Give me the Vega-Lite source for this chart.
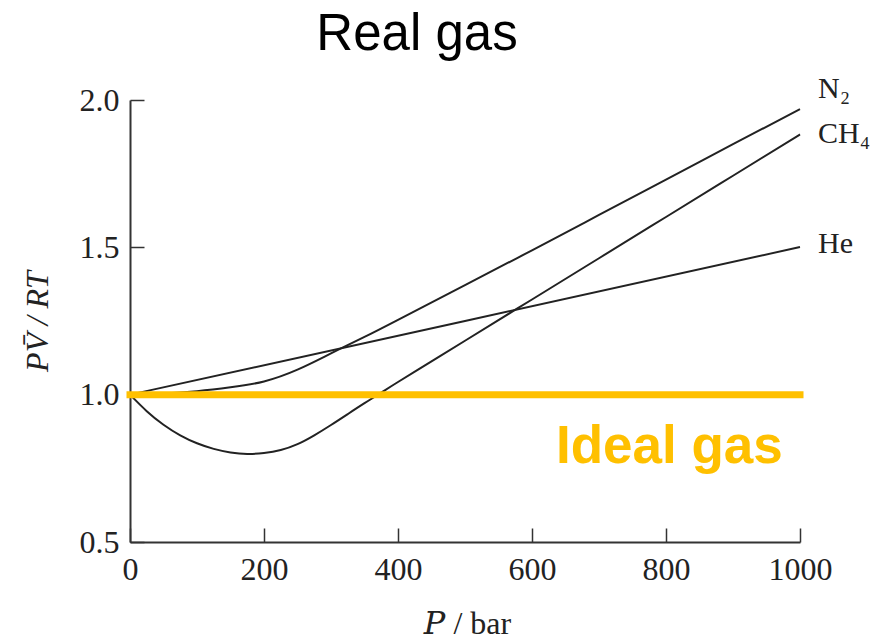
{
  "$schema": "https://vega.github.io/schema/vega-lite/v6.json",
  "width": 670,
  "height": 442,
  "autosize": {"type": "none"},
  "padding": {"left": 130, "top": 100, "right": 79, "bottom": 98},
  "background": "white",
  "config": {"view": {"stroke": null}},
  "title": {
    "text": "Real gas",
    "font": "Liberation Sans",
    "fontSize": 51,
    "fontWeight": "normal",
    "color": "#000000",
    "anchor": "middle",
    "dx": -48,
    "dy": 47,
    "baseline": "alphabetic",
    "offset": 20
  },
  "datasets": {
    "curves": [
      {"gas": "He", "P": 0, "Z": 1.0},
      {"gas": "He", "P": 500, "Z": 1.25},
      {"gas": "He", "P": 1000, "Z": 1.501},
      {"gas": "N2", "P": 0, "Z": 1.0},
      {"gas": "N2", "P": 50, "Z": 1.004},
      {"gas": "N2", "P": 100, "Z": 1.012},
      {"gas": "N2", "P": 150, "Z": 1.025},
      {"gas": "N2", "P": 200, "Z": 1.045},
      {"gas": "N2", "P": 250, "Z": 1.085},
      {"gas": "N2", "P": 300, "Z": 1.14},
      {"gas": "N2", "P": 350, "Z": 1.196},
      {"gas": "N2", "P": 400, "Z": 1.254},
      {"gas": "N2", "P": 500, "Z": 1.372},
      {"gas": "N2", "P": 600, "Z": 1.49},
      {"gas": "N2", "P": 700, "Z": 1.61},
      {"gas": "N2", "P": 800, "Z": 1.73},
      {"gas": "N2", "P": 900, "Z": 1.85},
      {"gas": "N2", "P": 1000, "Z": 1.969},
      {"gas": "CH4", "P": 0, "Z": 1.0},
      {"gas": "CH4", "P": 25, "Z": 0.944},
      {"gas": "CH4", "P": 50, "Z": 0.898},
      {"gas": "CH4", "P": 75, "Z": 0.862},
      {"gas": "CH4", "P": 100, "Z": 0.835},
      {"gas": "CH4", "P": 125, "Z": 0.816},
      {"gas": "CH4", "P": 150, "Z": 0.804},
      {"gas": "CH4", "P": 175, "Z": 0.799},
      {"gas": "CH4", "P": 200, "Z": 0.802},
      {"gas": "CH4", "P": 225, "Z": 0.812},
      {"gas": "CH4", "P": 250, "Z": 0.832},
      {"gas": "CH4", "P": 275, "Z": 0.862},
      {"gas": "CH4", "P": 300, "Z": 0.897},
      {"gas": "CH4", "P": 325, "Z": 0.934},
      {"gas": "CH4", "P": 350, "Z": 0.971},
      {"gas": "CH4", "P": 375, "Z": 1.007},
      {"gas": "CH4", "P": 400, "Z": 1.043},
      {"gas": "CH4", "P": 450, "Z": 1.113},
      {"gas": "CH4", "P": 500, "Z": 1.183},
      {"gas": "CH4", "P": 600, "Z": 1.323},
      {"gas": "CH4", "P": 700, "Z": 1.463},
      {"gas": "CH4", "P": 800, "Z": 1.603},
      {"gas": "CH4", "P": 900, "Z": 1.743},
      {"gas": "CH4", "P": 1000, "Z": 1.883}
    ],
    "labels": [
      {"name": "N₂", "P": 1000, "Z": 2.007},
      {"name": "CH₄", "P": 1000, "Z": 1.854},
      {"name": "He", "P": 1000, "Z": 1.481}
    ],
    "ideal": [
      {"P": 0, "Z": 1.0},
      {"P": 1000, "Z": 1.0}
    ],
    "note": [
      {"text": "Ideal gas", "P": 805, "Z": 0.768}
    ]
  },
  "layer": [
    {
      "data": {"name": "curves"},
      "mark": {"type": "line", "interpolate": "natural", "color": "#222222", "strokeWidth": 2},
      "encoding": {
        "x": {
          "field": "P",
          "type": "quantitative",
          "scale": {"domain": [0, 1000], "nice": false, "zero": false},
          "axis": {
            "values": [0, 200, 400, 600, 800, 1000],
            "format": "d",
            "grid": false,
            "tickSize": -14,
            "tickColor": "#333333",
            "tickWidth": 1.5,
            "domainColor": "#333333",
            "domainWidth": 2,
            "labelFont": "Liberation Serif",
            "labelFontSize": 32,
            "labelColor": "#222222",
            "labelPadding": 26,
            "labelFlush": false,
            "labelOverlap": false,
            "title": "𝑃 / bar",
            "titleFont": "Liberation Serif, DejaVu Serif",
            "titleFontSize": 32,
            "titleFontWeight": "normal",
            "titleColor": "#222222",
            "titleX": 337,
            "titleY": 91,
            "titleAlign": "center",
            "titleBaseline": "alphabetic"
          }
        },
        "y": {
          "field": "Z",
          "type": "quantitative",
          "scale": {"domain": [0.5, 2.0], "nice": false, "zero": false},
          "axis": {
            "values": [0.5, 1.0, 1.5, 2.0],
            "format": ".1f",
            "grid": false,
            "tickSize": -14,
            "tickColor": "#333333",
            "tickWidth": 1.5,
            "domainColor": "#333333",
            "domainWidth": 2,
            "labelFont": "Liberation Serif",
            "labelFontSize": 32,
            "labelColor": "#222222",
            "labelPadding": 25,
            "labelFlush": false,
            "labelOverlap": false,
            "title": "PV̄ / RT",
            "titleFont": "Liberation Serif",
            "titleFontSize": 32,
            "titleFontStyle": "italic",
            "titleFontWeight": "normal",
            "titleColor": "#222222",
            "titleAngle": -90,
            "titleX": -83,
            "titleY": 221,
            "titleAlign": "center",
            "titleBaseline": "alphabetic"
          }
        },
        "detail": {"field": "gas"}
      }
    },
    {
      "data": {"name": "ideal"},
      "mark": {"type": "line", "color": "#FFC000", "strokeWidth": 7, "strokeCap": "square"},
      "encoding": {
        "x": {"field": "P", "type": "quantitative"},
        "y": {"field": "Z", "type": "quantitative"}
      }
    },
    {
      "data": {"name": "labels"},
      "mark": {"type": "text", "align": "left", "baseline": "alphabetic", "dx": 18, "font": "Liberation Serif", "fontSize": 30, "color": "#222222"},
      "encoding": {
        "x": {"field": "P", "type": "quantitative"},
        "y": {"field": "Z", "type": "quantitative"},
        "text": {"field": "name"}
      }
    },
    {
      "data": {"name": "note"},
      "mark": {"type": "text", "align": "center", "baseline": "alphabetic", "font": "Liberation Sans", "fontSize": 53, "fontWeight": "bold", "color": "#FFC000"},
      "encoding": {
        "x": {"field": "P", "type": "quantitative"},
        "y": {"field": "Z", "type": "quantitative"},
        "text": {"field": "text"}
      }
    }
  ]
}
